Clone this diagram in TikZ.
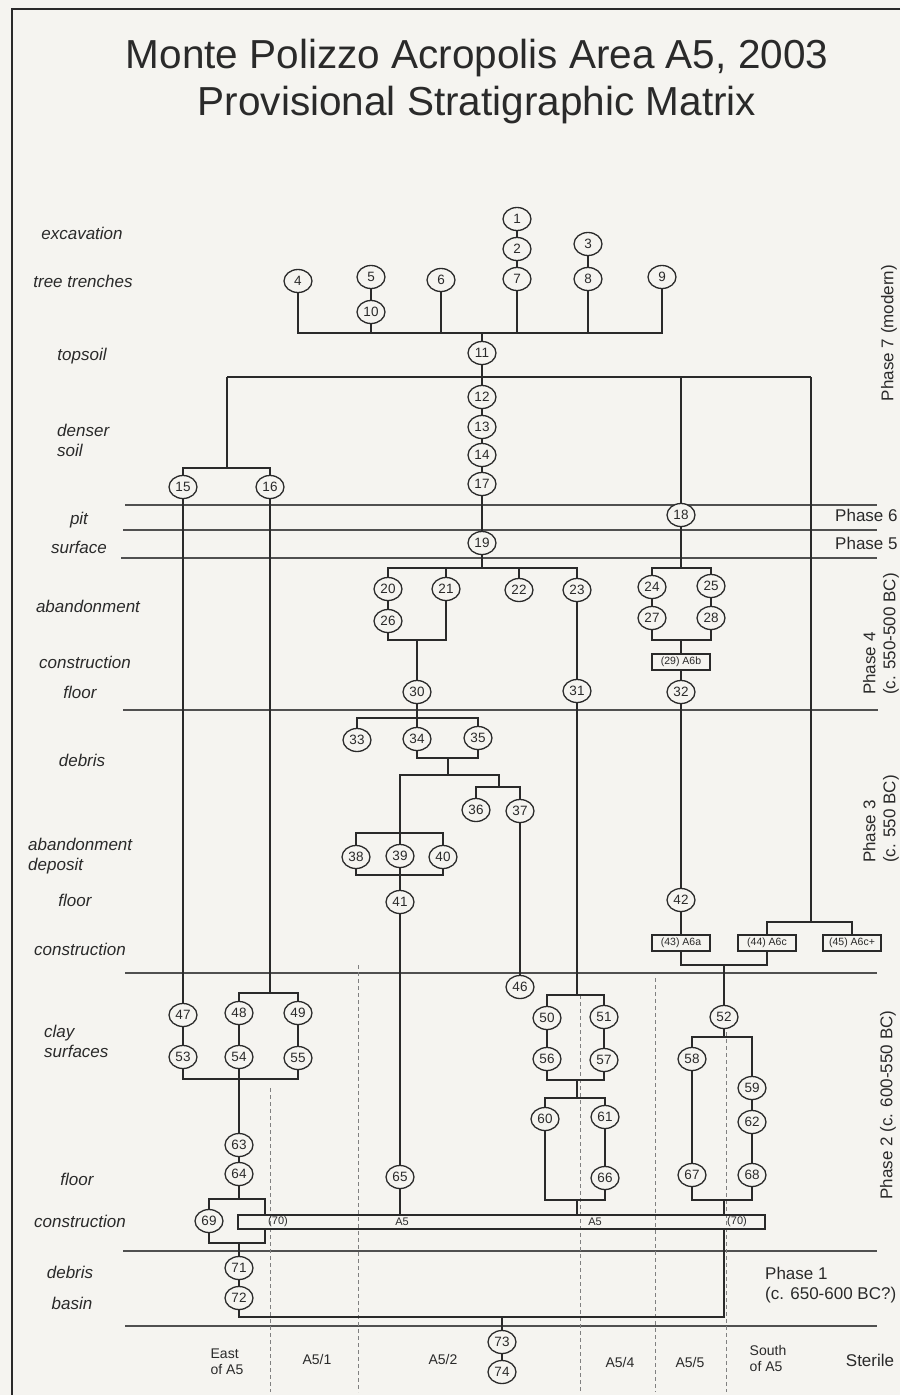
\documentclass[tikz,border=0pt]{standalone}
\usepackage{fontspec}
\setmainfont{Liberation Sans}
\usetikzlibrary{shapes.geometric,calc}
\definecolor{bg}{HTML}{F5F4F0}
\definecolor{ink}{HTML}{2A2A2A}
\definecolor{phl}{HTML}{505050}
\begin{document}
\begin{tikzpicture}[x=1pt,y=-1pt,
 unit/.style={ellipse,draw=ink,fill=bg,line width=1.3pt,minimum width=28pt,minimum height=23pt,inner sep=0pt,text=ink,font=\fontsize{13.5}{13.5}\selectfont},
 ubox/.style={rectangle,draw=ink,fill=bg,line width=1.1pt,minimum width=58pt,minimum height=16pt,inner sep=0pt,text=ink,font=\fontsize{10.5}{10.5}\selectfont},
 link/.style={draw=ink,line width=1.2pt},
 phaseline/.style={draw=phl,line width=2pt},
 divide/.style={draw=gray,line width=0.9pt,dash pattern=on 4pt off 3pt},
 lab/.style={font=\fontsize{17}{20}\selectfont\itshape,text=ink,align=left,inner sep=0pt},
 rlab/.style={font=\fontsize{17}{20}\selectfont,text=ink,align=left,inner sep=0pt},
 blab/.style={font=\fontsize{14}{16}\selectfont,text=ink,align=left,inner sep=0pt},
 btxt/.style={font=\fontsize{11}{11}\selectfont,text=ink,inner sep=0pt}
]
\fill[bg] (0,0) rectangle (900,1395);
\useasboundingbox (0,0) rectangle (900,1395);
\draw[ink,line width=1.5pt] (900,9) -- (12,9) -- (12,1395);

% title
\node[font=\fontsize{40.5}{44}\selectfont,text=ink] (title1) at (477,58) {Monte Polizzo Acropolis Area A5, 2003};
\node[font=\fontsize{40.5}{44}\selectfont,text=ink] (title2) at (477,105) {Provisional Stratigraphic Matrix};

% phase lines
\draw[phaseline] (125,505) -- (877,505);
\draw[phaseline] (123,530) -- (877,530);
\draw[phaseline] (121,558) -- (877,558);
\draw[phaseline] (123,710) -- (878,710);
\draw[phaseline] (125,973) -- (877,973);
\draw[phaseline] (123,1251) -- (877,1251);
\draw[phaseline] (125,1326) -- (877,1326);

% dashed dividers
\draw[divide] (270,1088) -- (270,1392);
\draw[divide] (358,965) -- (358,1392);
\draw[divide] (580,995) -- (580,1392);
\draw[divide] (655,978) -- (655,1392);
\draw[divide] (726,1025) -- (726,1392);

% left labels
\node[lab] (l1) at (82,233) {excavation};
\node[lab] (l2) at (83,281) {tree trenches};
\node[lab] (l3) at (82,356) {topsoil};
\node[lab,anchor=west] (l4) at (57,440) {denser\\soil};
\node[lab] (l5) at (79,520) {pit};
\node[lab] (l6) at (79,547) {surface};
\node[lab] (l7) at (88,606) {abandonment};
\node[lab] (l8) at (85,662) {construction};
\node[lab] (l9) at (80,692) {floor};
\node[lab] (l10) at (82,760) {debris};
\node[lab,anchor=west] (l11) at (28,856) {abandonment\\deposit};
\node[lab] (l12) at (75,900) {floor};
\node[lab] (l13) at (80,949) {construction};
\node[lab,anchor=west] (l14) at (44,1041) {clay\\surfaces};
\node[lab] (l15) at (77,1179) {floor};
\node[lab] (l16) at (80,1221) {construction};
\node[lab] (l17) at (70,1272) {debris};
\node[lab] (l18) at (72,1303) {basin};

% right labels
\node[rlab,anchor=west] (p6) at (835,515) {Phase 6};
\node[rlab,anchor=west] (p5) at (835,543) {Phase 5};
\node[rlab,anchor=west] (p1) at (765,1285) {Phase 1\\(c. 650-600 BC?)};
\node[rlab,rotate=90] (p7) at (889,333) {Phase 7 (modern)};
\node[rlab,rotate=90,anchor=west] (p4) at (881,695) {Phase 4\\(c. 550-500 BC)};
\node[rlab,rotate=90,anchor=west] (p3) at (881,863) {Phase 3\\(c. 550 BC)};
\node[rlab,rotate=90] (p2) at (888,1105) {Phase 2 (c. 600-550 BC)};

% bottom labels
\node[blab] (a1) at (227,1362) {East\\of A5};
\node[blab] (a2) at (317,1359) {A5/1};
\node[blab] (a3) at (443,1359) {A5/2};
\node[blab] (a4) at (620,1362) {A5/4};
\node[blab] (a5) at (690,1362) {A5/5};
\node[blab] (a6) at (768,1358) {South\\of A5};
\node[rlab] (a7) at (870,1360) {Sterile};

% coordinates
\coordinate (bus) at (0,333);
\coordinate (L1) at (227,377);
\coordinate (R1) at (811,377);
\coordinate (L2) at (227,468);
\coordinate (P19) at (482,568);
\coordinate (P18) at (681,568);
\coordinate (Q18) at (681,640);
\coordinate (Q20) at (417,640);
\coordinate (T34) at (417,718);
\coordinate (T35) at (448,758);
\coordinate (U2) at (499,775);
\coordinate (U3) at (499,787);
\coordinate (V1) at (400,833);
\coordinate (V2) at (400,875);
\coordinate (X1) at (811,922);
\coordinate (W1) at (724,965);
\coordinate (J48) at (270,993);
\coordinate (J54) at (239,1079);
\coordinate (S50) at (577,995);
\coordinate (S56) at (577,1080);
\coordinate (S60) at (577,1098);
\coordinate (S66) at (577,1200);
\coordinate (Y1) at (724,1037);
\coordinate (Y2) at (724,1200);
\coordinate (K1) at (239,1199);
\coordinate (K2) at (239,1243);
\coordinate (K3) at (265,1199);
\coordinate (K4) at (265,1243);
\coordinate (M1) at (724,1317);
\coordinate (M2) at (502,1317);

% units
\node[unit] (n1) at (517,219) {1};
\node[unit] (n2) at (517,249) {2};
\node[unit] (n7) at (517,279) {7};
\node[unit] (n3) at (588,244) {3};
\node[unit] (n8) at (588,279) {8};
\node[unit] (n9) at (662,277) {9};
\node[unit] (n4) at (298,281) {4};
\node[unit] (n5) at (371,277) {5};
\node[unit] (n10) at (371,312) {10};
\node[unit] (n6) at (441,280) {6};
\node[unit] (n11) at (482,353) {11};
\node[unit] (n12) at (482,397) {12};
\node[unit] (n13) at (482,427) {13};
\node[unit] (n14) at (482,455) {14};
\node[unit] (n17) at (482,484) {17};
\node[unit] (n15) at (183,487) {15};
\node[unit] (n16) at (270,487) {16};
\node[unit] (n18) at (681,515) {18};
\node[unit] (n19) at (482,543) {19};
\node[unit] (n20) at (388,589) {20};
\node[unit] (n26) at (388,621) {26};
\node[unit] (n21) at (446,589) {21};
\node[unit] (n22) at (519,590) {22};
\node[unit] (n23) at (577,590) {23};
\node[unit] (n24) at (652,587) {24};
\node[unit] (n25) at (711,586) {25};
\node[unit] (n27) at (652,618) {27};
\node[unit] (n28) at (711,618) {28};
\node[ubox] (b29) at (681,662) {(29) A6b};
\node[unit] (n30) at (417,692) {30};
\node[unit] (n31) at (577,691) {31};
\node[unit] (n32) at (681,692) {32};
\node[unit] (n33) at (357,740) {33};
\node[unit] (n34) at (417,739) {34};
\node[unit] (n35) at (478,738) {35};
\node[unit] (n36) at (476,810) {36};
\node[unit] (n37) at (520,811) {37};
\node[unit] (n38) at (356,857) {38};
\node[unit] (n39) at (400,856) {39};
\node[unit] (n40) at (443,857) {40};
\node[unit] (n41) at (400,902) {41};
\node[unit] (n42) at (681,900) {42};
\node[ubox] (b43) at (681,943) {(43) A6a};
\node[ubox] (b44) at (767,943) {(44) A6c};
\node[ubox] (b45) at (852,943) {(45) A6c+};
\node[unit] (n46) at (520,987) {46};
\node[unit] (n47) at (183,1015) {47};
\node[unit] (n48) at (239,1013) {48};
\node[unit] (n49) at (298,1013) {49};
\node[unit] (n53) at (183,1057) {53};
\node[unit] (n54) at (239,1057) {54};
\node[unit] (n55) at (298,1058) {55};
\node[unit] (n50) at (547,1018) {50};
\node[unit] (n51) at (604,1017) {51};
\node[unit] (n56) at (547,1059) {56};
\node[unit] (n57) at (604,1060) {57};
\node[unit] (n60) at (545,1119) {60};
\node[unit] (n61) at (605,1117) {61};
\node[unit] (n66) at (605,1178) {66};
\node[unit] (n52) at (724,1017) {52};
\node[unit] (n58) at (692,1059) {58};
\node[unit] (n59) at (752,1088) {59};
\node[unit] (n62) at (752,1122) {62};
\node[unit] (n67) at (692,1175) {67};
\node[unit] (n68) at (752,1175) {68};
\node[unit] (n63) at (239,1145) {63};
\node[unit] (n64) at (239,1174) {64};
\node[unit] (n65) at (400,1177) {65};
\node[unit] (n69) at (209,1221) {69};
\node[rectangle,draw=ink,line width=1.1pt,minimum width=527pt,minimum height=14pt,inner sep=0pt] (b70) at (501.5,1222) {};
\node[btxt] (t70a) at (278,1222) {(70)};
\node[btxt] (t70b) at (402,1222) {A5};
\node[btxt] (t70c) at (595,1222) {A5};
\node[btxt] (t70d) at (737,1222) {(70)};
\node[unit] (n71) at (239,1268) {71};
\node[unit] (n72) at (239,1298) {72};
\node[unit] (n73) at (502,1342) {73};
\node[unit] (n74) at (502,1372) {74};

% connectors: phase 7
\draw[link] (n1) -- (n2) -- (n7);
\draw[link] (n3) -- (n8);
\draw[link] (n5) -- (n10);
\draw[link] (n4) |- (n9 |- bus) -- (n9);
\draw[link] (n10) -- (n10 |- bus);
\draw[link] (n6) -- (n6 |- bus);
\draw[link] (n7) -- (n7 |- bus);
\draw[link] (n8) -- (n8 |- bus);
\draw[link] (n11) -- (n11 |- bus);
\draw[link] (L1) -- (R1);
\draw[link] (n11) -- (n12) -- (n13) -- (n14) -- (n17) -- (n19);
\draw[link] (L1) -- (L2);
\draw[link] (n15) |- (L2) -| (n16);
\draw[link] (n18) -- (n18 |- R1);
\draw[link] (R1) -- (X1);
% phase 5/4
\draw[link] (n19) -- (P19);
\draw[link] (n20) |- (P19) -| (n23);
\draw[link] (n21) -- (n21 |- P19);
\draw[link] (n22) -- (n22 |- P19);
\draw[link] (n18) -- (P18);
\draw[link] (n24) |- (P18) -| (n25);
\draw[link] (n24) -- (n27);
\draw[link] (n25) -- (n28);
\draw[link] (n20) -- (n26);
\draw[link] (n27) |- (Q18) -| (n28);
\draw[link] (Q18) -- (b29);
\draw[link] (b29) -- (n32);
\draw[link] (n26) |- (Q20) -| (n21);
\draw[link] (Q20) -- (n30);
\draw[link] (n30) -- (n34);
\draw[link] (n23) -- (n31);
\draw[link] (n31) -- (S50);
% phase 3
\draw[link] (n33) |- (T34) -| (n35);
\draw[link] (n34) |- (T35) -| (n35);
\draw[link] (T35) -- (T35 |- U2);
\draw[link] (n39) |- (U2) -- (U3);
\draw[link] (n36) |- (U3) -| (n37);
\draw[link] (n38) |- (V1) -| (n40);
\draw[link] (n38) |- (V2) -| (n40);
\draw[link] (n39) -- (n41);
\draw[link] (n41) -- (n65);
\draw[link] (n65) -- (n65 |- b70.north);
\draw[link] (n37) -- (n46);
\draw[link] (n32) -- (n42);
\draw[link] (n42) -- (b43);
\draw[link] (b44) |- (X1) -| (b45);
\draw[link] (b43) |- (W1) -| (b44);
\draw[link] (W1) -- (n52);
% phase 2
\draw[link] (n15) -- (n47) -- (n53);
\draw[link] (n16) -- (J48);
\draw[link] (n48) |- (J48) -| (n49);
\draw[link] (n48) -- (n54);
\draw[link] (n49) -- (n55);
\draw[link] (n53) |- (J54) -| (n55);
\draw[link] (n54) -- (n63) -- (n64);
\draw[link] (n50) |- (S50) -| (n51);
\draw[link] (n50) -- (n56);
\draw[link] (n51) -- (n57);
\draw[link] (n56) |- (S56) -| (n57);
\draw[link] (S56) -- (S60);
\draw[link] (n60) |- (S60) -| (n61);
\draw[link] (n61) -- (n66);
\draw[link] (n60) |- (S66) -| (n66);
\draw[link] (S66) -- (S66 |- b70.north);
\draw[link] (n52) -- (Y1);
\draw[link] (n58) |- (Y1) -| (n59);
\draw[link] (n59) -- (n62) -- (n68);
\draw[link] (n58) -- (n67);
\draw[link] (n67) |- (Y2) -| (n68);
\draw[link] (Y2) -- (Y2 |- b70.north);
\draw[link] (n64) -- (K1);
\draw[link] (n69) |- (K3) -- (K3 |- b70.north);
\draw[link] (n69) |- (K4) -- (K4 |- b70.south);
% phase 1
\draw[link] (K2) -- (n71) -- (n72);
\draw[link] (n72) |- (M1) -- (M1 |- b70.south);
\draw[link] (M2) -- (n73) -- (n74);
\end{tikzpicture}
\end{document}
